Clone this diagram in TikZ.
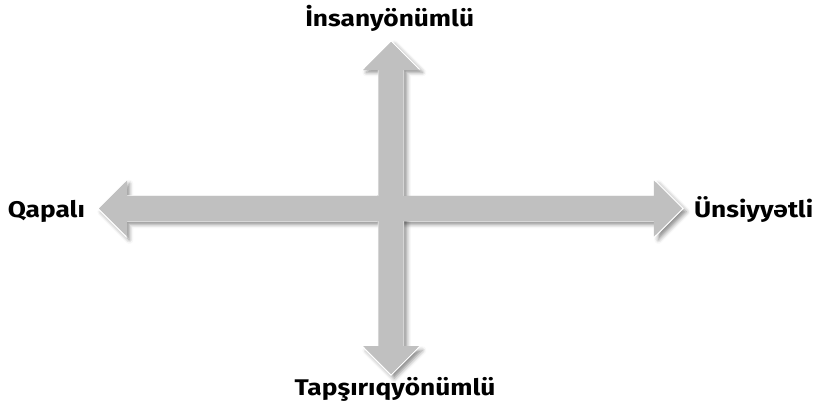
\documentclass[tikz,border=0pt]{standalone}
\usepackage{fontspec}
\setmainfont{Fira Sans}[FakeStretch=1.16]
\usetikzlibrary{shapes.arrows,shadows.blur,positioning}

\definecolor{arrowgray}{RGB}{192,192,192}

\begin{document}
\begin{tikzpicture}[x=0.75pt,y=-0.75pt,
  axisarrow/.style={double arrow,draw=white,line width=0.8pt,fill=arrowgray,
    inner sep=9pt,double arrow head extend=11.6pt,
    double arrow tip angle=90},
  arrowshadow/.style={blur shadow={shadow xshift=2.5pt,shadow yshift=-2.5pt,
    shadow blur radius=3pt,shadow opacity=45}},
  axislabel/.style={font=\bfseries\fontsize{17}{20}\selectfont,inner sep=0pt}]
\useasboundingbox (0,0) rectangle (818,410);
        % the two axes
\node[axisarrow,arrowshadow,minimum height=438.75pt] (harrow) at (390.5,208.5) {};
\node[axisarrow,arrowshadow,minimum height=250.5pt,shape border rotate=90] (varrow) at (391,208) {};
\node[axisarrow,draw=none,minimum height=437pt] (harrowfill) at (390.5,208.5) {};
\node[axisarrow,draw=none,minimum height=249pt,shape border rotate=90] (varrowfill) at (391,208) {};

        % axis ends
\node[axislabel,anchor=base east] (qapali) at ([xshift=-9pt,yshift=-6.4pt]harrow.west) {Qapalı};
\node[axislabel,anchor=base west] (unsiyyetli) at ([xshift=7.5pt,yshift=-6.8pt]harrow.east) {Ünsiyyətli};
\node[axislabel,anchor=base] (insan) at ([xshift=-1pt,yshift=10.5pt]varrow.north) {İnsanyönümlü};
\node[axislabel,anchor=base] (tapsiriq) at ([xshift=3pt,yshift=-15pt]varrow.south) {Tapşırıqyönümlü};
\end{tikzpicture}
\end{document}
